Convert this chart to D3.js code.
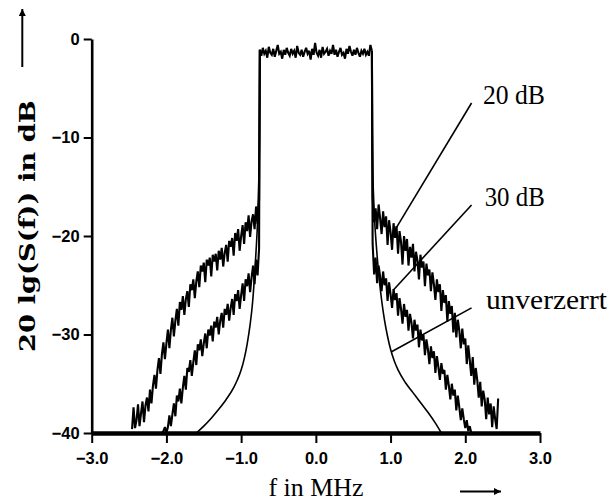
<!DOCTYPE html>
<html><head><meta charset="utf-8">
<script src="https://cdn.jsdelivr.net/npm/d3@7"></script>
<style>body{margin:0;background:#fff} svg{display:block}</style>
</head><body><svg id="c" width="609" height="503"></svg>
<script>
// ---- data ----
const xTicks = [-3, -2, -1, 0, 1, 2, 3];
const yTicks = [-40, -30, -20, -10, 0];

// pass band (measured, noisy), f from -0.75 to 0.75 MHz
const topRange = [-0.75, 0.75];
const topValues = [-1.1,-1.7,-0.9,-1.5,-1.2,-1.9,-0.8,-1.4,-1.6,-1.0,
 -1.8,-1.2,-0.6,-1.5,-1.3,-2.0,-1.1,-1.6,-0.9,-1.4,
 -1.7,-1.0,-1.5,-1.2,-1.9,-0.7,-1.4,-1.6,-1.1,-1.8,
 -1.3,-0.9,-1.5,-1.2,-2.1,-1.0,-1.6,-0.4,-1.4,-1.7,
 -1.1,-1.9,-0.8,-1.5,-1.3,-1.0,-1.7,-1.2,-1.5,-0.6,
 -1.6,-1.1,-1.8,-1.3,-0.9,-1.6,-1.4,-2.0,-1.0,-1.5,
 -0.7,-1.3,-1.7,-1.1,-1.6,-0.9,-1.4,-1.8,-1.2,-1.5,
 -1.0,-1.6,-1.3,-1.7,-0.6,-1.2];

// "20 dB" skirts
const left20Range = [-0.76, -2.46];
const left20Values = [-16.3,-18.8,-17.0,-19.3,-17.8,-18.5,-20.1,-17.9,-19.5,-18.6,
 -20.8,-18.9,-20.0,-21.5,-19.3,-20.5,-19.7,-22.0,-20.2,-21.1,
 -20.5,-22.6,-20.9,-21.7,-23.1,-21.2,-22.4,-21.5,-23.5,-21.8,
 -22.6,-21.9,-24.1,-22.2,-23.0,-22.4,-24.7,-22.7,-23.6,-23.0,
 -25.2,-23.6,-24.6,-26.3,-24.4,-25.5,-24.9,-27.2,-25.6,-26.4,
 -28.0,-26.1,-27.5,-26.7,-29.1,-27.4,-28.6,-30.2,-28.3,-29.5,
 -31.4,-29.5,-30.9,-32.5,-30.8,-32.0,-34.0,-32.4,-33.6,-35.5,
 -34.1,-35.2,-37.0,-35.6,-37.8,-36.4,-37.2,-38.9,-36.8,-38.0,
 -39.3,-37.1,-38.7,-39.5,-37.4,-39.6];
const right20Range = [0.76, 2.44];
const right20Values = [-16.0,-18.6,-17.2,-19.3,-16.8,-18.2,-19.8,-17.5,-19.1,-18.0,
 -20.9,-18.4,-19.6,-21.4,-18.7,-20.2,-19.0,-21.8,-19.5,-20.6,
 -22.9,-20.0,-21.5,-20.3,-23.0,-21.1,-22.2,-20.8,-23.6,-21.6,
 -22.5,-24.4,-21.9,-23.2,-22.6,-25.1,-22.8,-24.0,-23.4,-25.6,
 -23.7,-24.9,-26.5,-24.4,-25.7,-24.9,-27.6,-25.5,-26.8,-26.0,
 -28.7,-26.6,-27.9,-27.1,-29.8,-27.8,-30.3,-28.5,-29.6,-31.4,
 -29.4,-31.0,-30.4,-33.0,-31.1,-32.6,-34.2,-32.3,-35.1,-33.4,
 -34.6,-36.4,-34.8,-37.3,-35.7,-36.6,-38.6,-36.4,-38.1,-37.0,
 -39.4,-37.3,-38.6,-39.6,-36.5];

// "30 dB" skirts
const left30Range = [-0.76, -2.08];
const left30Values = [-21.3,-24.0,-22.4,-24.9,-23.0,-24.2,-25.7,-23.8,-25.1,-24.4,
 -26.6,-24.8,-26.0,-27.4,-25.5,-26.6,-25.9,-28.0,-26.4,-27.3,
 -28.6,-26.9,-28.0,-27.4,-29.3,-27.8,-28.6,-30.0,-28.2,-29.3,
 -28.7,-30.7,-29.1,-30.1,-29.5,-31.4,-29.9,-30.9,-32.2,-30.5,
 -31.6,-31.0,-33.1,-31.6,-32.8,-34.2,-32.6,-33.8,-33.4,-35.6,
 -34.2,-35.4,-37.0,-35.5,-36.8,-36.2,-38.3,-37.0,-38.1,-39.3,
 -38.2,-39.4,-40.0,-39.4,-39.8,-40.0,-40.0];
const right30Range = [0.76, 2.10];
const right30Values = [-20.8,-23.9,-22.2,-24.8,-23.0,-24.1,-25.6,-23.6,-25.0,-24.3,
 -26.6,-24.7,-25.9,-27.3,-25.4,-26.5,-25.8,-28.1,-26.3,-27.4,
 -28.9,-26.9,-28.2,-27.5,-29.6,-27.9,-28.8,-30.4,-28.5,-29.6,
 -29.0,-31.3,-29.5,-30.6,-30.0,-32.1,-30.5,-31.5,-33.0,-31.2,
 -32.4,-31.7,-33.9,-32.2,-33.3,-34.6,-32.9,-34.0,-33.6,-35.6,
 -34.1,-35.2,-36.6,-35.0,-36.2,-35.6,-37.7,-36.2,-37.4,-38.7,
 -37.5,-38.6,-39.5,-38.7,-39.8,-39.3,-40.0,-40.0];

// undistorted ("unverzerrt") spectrum
const leftCleanF  = [-0.75,-0.752,-0.755,-0.76,-0.77,-0.78,-0.80,-0.82,-0.85,-0.88,-0.92,-0.96,-1.0,-1.05,-1.1,-1.2,-1.3,-1.4,-1.5,-1.6];
const leftCleanDb = [-1.3,-6,-10,-13,-16,-18.5,-21.5,-24,-27,-29,-31,-32.5,-33.6,-34.6,-35.4,-36.6,-37.6,-38.5,-39.3,-40];
const rightCleanF  = [0.75,0.752,0.755,0.76,0.77,0.78,0.80,0.82,0.85,0.88,0.92,0.96,1.0,1.05,1.1,1.2,1.3,1.4,1.5,1.6,1.68];
const rightCleanDb = [-1.3,-6,-10,-13,-15.5,-17.5,-20,-22,-24.5,-26.5,-28.6,-30.2,-31.5,-32.7,-33.6,-34.9,-35.9,-36.9,-37.9,-39.0,-40];

// annotations: label, text anchor (f, dB), leader line from / to (f, dB)
const annoLabels = ["20 dB", "30 dB", "unverzerrt"];
const annoText   = [[2.236, -6.6], [2.26, -16.95], [2.276, -27.4]];
const annoFrom   = [[2.084, -6.5], [2.084, -16.85], [2.084, -27.3]];
const annoTo     = [[1.058, -19.4], [1.035, -25.5], [1.013, -31.75]];
const annoWidth  = [62, 60, 121];

// ---- drawing ----
const svg = d3.select("#c");
const x = d3.scaleLinear().domain([-3, 3]).range([91.7, 540]);
const y = d3.scaleLinear().domain([-40, 0]).range([433, 39]);

function pts(range, vals) {
  const n = vals.length;
  return vals.map((v, i) => [range[0] + (range[1] - range[0]) * i / (n - 1), v]);
}
const line = d3.line().x(d => x(d[0])).y(d => y(Math.max(-40, d[1])));

const topPts = pts(topRange, topValues);
const topL = topPts[0], topR = topPts[topPts.length - 1];

const curves = [
  topPts,
  [topL].concat(pts(left20Range, left20Values)),
  [topR].concat(pts(right20Range, right20Values)),
  [topL].concat(pts(left30Range, left30Values)),
  [topR].concat(pts(right30Range, right30Values))
];
svg.append("g").selectAll("path").data(curves).join("path")
  .attr("d", line).attr("fill", "none").attr("stroke", "#000")
  .attr("stroke-width", 2.1).attr("stroke-linejoin", "miter").attr("stroke-miterlimit", 3);

const clean = [
  leftCleanF.map((f, i) => [f, leftCleanDb[i]]),
  rightCleanF.map((f, i) => [f, rightCleanDb[i]])
];
svg.append("g").selectAll("path").data(clean).join("path")
  .attr("d", d3.line().x(d => x(d[0])).y(d => y(d[1])).curve(d3.curveMonotoneX))
  .attr("fill", "none").attr("stroke", "#000").attr("stroke-width", 1.6);

// axes
const fmtX = d => d3.format(".1f")(d);
const xa = svg.append("g").attr("transform", `translate(0,${y(-40)})`)
  .call(d3.axisBottom(x).tickValues(xTicks).tickFormat(fmtX).tickSize(10).tickSizeOuter(0).tickPadding(9));
xa.select(".domain").attr("stroke-width", 4.5);
xa.selectAll(".tick line").attr("stroke-width", 2);
xa.selectAll("text").attr("font-family", "'Liberation Sans', Arial, sans-serif")
  .attr("font-weight", "bold").attr("font-size", 16.5).attr("fill", "#000");

const ya = svg.append("g").attr("transform", `translate(${x(-3)},0)`)
  .call(d3.axisLeft(y).tickValues(yTicks).tickFormat(d3.format("d")).tickSize(8).tickSizeOuter(0).tickPadding(4));
ya.select(".domain").attr("stroke-width", 2.6);
ya.selectAll(".tick line").attr("stroke-width", 2);
ya.selectAll("text").attr("font-family", "'Liberation Sans', Arial, sans-serif")
  .attr("font-weight", "bold").attr("font-size", 16.5).attr("fill", "#000");

// axis titles
svg.append("text").attr("x", 316).attr("y", 496).attr("text-anchor", "middle")
  .attr("font-family", "'Liberation Serif', 'Times New Roman', serif").attr("font-size", 26)
  .attr("textLength", 95).attr("lengthAdjust", "spacingAndGlyphs")
  .text("f in MHz");
svg.append("text").attr("transform", "translate(35,226) rotate(-90)").attr("text-anchor", "middle")
  .attr("font-family", "'DejaVu Serif', serif").attr("font-weight", "bold").attr("font-size", 23)
  .attr("textLength", 252).attr("lengthAdjust", "spacingAndGlyphs")
  .text("20 lg(S(f)) in dB");

// axis arrows
const defs = svg.append("defs");
defs.append("marker").attr("id", "ah").attr("viewBox", "0 0 10 10").attr("refX", 10).attr("refY", 5)
  .attr("markerWidth", 10).attr("markerHeight", 7).attr("markerUnits", "userSpaceOnUse").attr("orient", "auto")
  .append("path").attr("d", "M0,0 L10,5 L0,10 Z").attr("fill", "#000");
svg.append("line").attr("x1", 460).attr("y1", 491.5).attr("x2", 501).attr("y2", 491.5)
  .attr("stroke", "#000").attr("stroke-width", 2).attr("marker-end", "url(#ah)");
svg.append("line").attr("x1", 22.3).attr("y1", 67).attr("x2", 22.3).attr("y2", 9)
  .attr("stroke", "#000").attr("stroke-width", 2).attr("marker-end", "url(#ah)");

// annotations
const ag = svg.append("g");
annoLabels.forEach((t, i) => {
  ag.append("line").attr("x1", x(annoFrom[i][0])).attr("y1", y(annoFrom[i][1]))
    .attr("x2", x(annoTo[i][0])).attr("y2", y(annoTo[i][1]))
    .attr("stroke", "#000").attr("stroke-width", 1.6);
  ag.append("text").attr("x", x(annoText[i][0])).attr("y", y(annoText[i][1]))
    .attr("font-family", "'Liberation Serif', 'Times New Roman', serif").attr("font-size", 28)
    .attr("textLength", annoWidth[i]).attr("lengthAdjust", "spacingAndGlyphs")
    .text(t);
});
</script></body></html>
